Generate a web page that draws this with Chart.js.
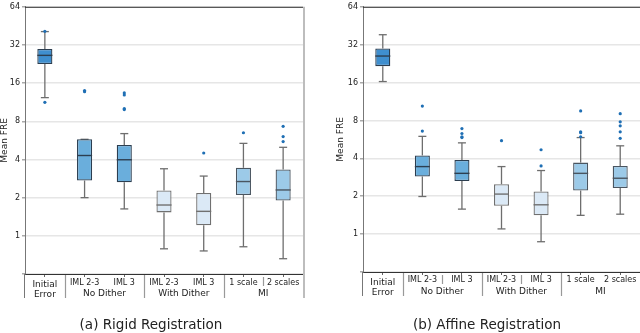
<!DOCTYPE html>
<html>
    <head>
        <title>Mean FRE box plots</title>
        <meta name="viewport" content="width=device-width, initial-scale=1.0">
        <script src="https://cdn.jsdelivr.net/npm/chart.js@4.4.1/dist/chart.umd.min.js"></script>
        <style>
            body { margin: 0; background: #fff; }
            .panel { position: absolute; top: 0; width: 320px; height: 333px; }
        </style>
    </head>
    <body>
        <div class="panel" style="left:0"><canvas id="rigid" width="320" height="333"></canvas></div>
        <div class="panel" style="left:320px"><canvas id="affine" width="320" height="333"></canvas></div>
        <script>
            // categories and groups (shared by both panels)
            const categories = ['Initial Error', 'IML 2-3', 'IML 3', 'IML 2-3', 'IML 3', '1 scale', '2 scales'];
            const groupLabels = ['No Dither', 'With Dither', 'MI'];
            const groupStart = [1, 3, 5];
            const groupEnd = [2, 4, 6];
            const yTicks = [0.5, 1, 2, 4, 8, 16, 32, 64];
            const boxColors = ['#3f8fcf', '#6aaedc', '#6aaedc', '#dbe9f6', '#dbe9f6', '#9ccae8', '#9ccae8'];
            const edgeColors = ['#2c3e50', '#2c3e50', '#2c3e50', '#707070', '#707070', '#4a5560', '#4a5560'];

            // (a) rigid registration
            const rigidLow = [12.3, 2.0, 1.63, 0.79, 0.76, 0.82, 0.66];
            const rigidQ1 = [22.6, 2.73, 2.64, 1.53, 1.21, 2.1, 1.9];
            const rigidMed = [26.5, 4.3, 3.98, 1.75, 1.56, 2.68, 2.3];
            const rigidQ3 = [29.8, 5.77, 5.2, 2.28, 2.18, 3.44, 3.34];
            const rigidHigh = [40.8, 5.77, 6.4, 3.38, 2.96, 5.36, 4.99];
            const rigidOut = [[11.3, 41], [14, 13.7], [13.4, 12.9, 10.1, 9.9], [], [4.5], [6.5], [7.3, 6.06, 5.54]];

            // (b) affine registration
            const affineLow = [16.3, 1.99, 1.58, 1.1, 0.87, 1.41, 1.44];
            const affineQ1 = [21.6, 2.87, 2.64, 1.68, 1.41, 2.22, 2.32];
            const affineMed = [26, 3.44, 3.04, 2.08, 1.71, 3.04, 2.78];
            const affineQ3 = [29.9, 4.22, 3.88, 2.49, 2.18, 3.70, 3.48];
            const affineHigh = [38.4, 5.98, 5.31, 3.44, 3.2, 5.85, 5.03];
            const affineOut = [[], [10.4, 6.59], [6.9, 6.3, 5.94, 5.85], [5.53], [4.68, 3.48], [9.53, 6.5, 6.4, 5.94], [9.05, 7.8, 7.25, 6.5, 5.77]];

            const FONT = "'DejaVu Sans', sans-serif";

            function line(ctx, x1, y1, x2, y2) {
                ctx.beginPath();
                ctx.moveTo(x1, y1);
                ctx.lineTo(x2, y2);
                ctx.stroke();
            }

            // whiskers, medians, fliers, the two-row x labels and the caption
            const boxPlugin = {
                id: 'boxExtras',
                beforeDatasetsDraw(chart) {
                    const o = chart.options.plugins.boxExtras;
                    const xs = chart.scales.x, ys = chart.scales.y, ctx = chart.ctx;
                    ctx.save();
                    ctx.strokeStyle = '#6e6e6e';
                    ctx.lineWidth = 1.3;
                    for (let i = 0; i < categories.length; i++) {
                        const x = xs.getPixelForValue(i);
                        line(ctx, x, ys.getPixelForValue(o.low[i]), x, ys.getPixelForValue(o.q1[i]));
                        line(ctx, x, ys.getPixelForValue(o.q3[i]), x, ys.getPixelForValue(o.high[i]));
                        line(ctx, x - 4, ys.getPixelForValue(o.low[i]), x + 4, ys.getPixelForValue(o.low[i]));
                        line(ctx, x - 4, ys.getPixelForValue(o.high[i]), x + 4, ys.getPixelForValue(o.high[i]));
                    }
                    ctx.restore();
                },
                afterDatasetsDraw(chart) {
                    const o = chart.options.plugins.boxExtras;
                    const xs = chart.scales.x, ys = chart.scales.y, ctx = chart.ctx;
                    const bars = chart.getDatasetMeta(0).data;
                    ctx.save();
                    for (let i = 0; i < categories.length; i++) {
                        const x = xs.getPixelForValue(i);
                        const w = bars[i].width;
                        ctx.strokeStyle = edgeColors[i];
                        ctx.lineWidth = 1.4;
                        const ym = ys.getPixelForValue(o.med[i]);
                        line(ctx, x - w / 2, ym, x + w / 2, ym);
                        ctx.fillStyle = '#1f6fb4';
                        o.out[i].forEach(v => {
                            ctx.beginPath();
                            ctx.arc(x, ys.getPixelForValue(v), 1.6, 0, Math.PI * 2);
                            ctx.fill();
                        });
                    }
                    ctx.restore();
                },
                afterDraw(chart) {
                    const o = chart.options.plugins.boxExtras;
                    const xs = chart.scales.x, ctx = chart.ctx;
                    const a = chart.chartArea;
                    ctx.save();
                    // frame
                    ctx.strokeStyle = '#333';
                    ctx.lineWidth = 1;
                    line(ctx, a.left, a.top + 0.5, a.right, a.top + 0.5);
                    const clipY = a.bottom + o.clip;
                    ctx.strokeStyle = '#777';
                    line(ctx, a.left - 0.5, a.bottom, a.left - 0.5, clipY);
                    if (o.rightBorder) {
                        ctx.strokeStyle = '#bdbdbd';
                        ctx.lineWidth = 2;
                        line(ctx, a.right + 1, a.top, a.right + 1, clipY);
                    }
                    // x labels, clipped like the original figure
                    ctx.beginPath();
                    ctx.rect(0, a.bottom + 1, chart.width, o.clip - 1);
                    ctx.clip();
                    ctx.fillStyle = '#222';
                    ctx.textAlign = 'center';
                    ctx.textBaseline = 'middle';
                    const x0 = xs.getPixelForValue(0);
                    ctx.font = '9px ' + FONT;
                    ctx.fillText('Initial', x0, a.bottom + 11);
                    ctx.fillText('Error', x0, a.bottom + 21);
                    ctx.font = '8px ' + FONT;
                    for (let i = 1; i < categories.length; i++) {
                        ctx.fillText(categories[i], xs.getPixelForValue(i), a.bottom + o.row1);
                    }
                    ctx.font = '9px ' + FONT;
                    ctx.strokeStyle = '#999';
                    ctx.lineWidth = 1.2;
                    for (let g = 0; g < groupLabels.length; g++) {
                        const xc = xs.getPixelForValue((groupStart[g] + groupEnd[g]) / 2);
                        ctx.fillText(groupLabels[g], xc, a.bottom + o.row2);
                        const xb = Math.round(xs.getPixelForValue(groupStart[g] - 0.5)) + 0.5;
                        line(ctx, xb, a.bottom, xb, clipY);
                    }
                    o.splits.forEach(s => {
                        const xb = Math.round(xs.getPixelForValue(s)) + 0.5;
                        line(ctx, xb, a.bottom + 3, xb, a.bottom + 12);
                    });
                    ctx.restore();
                    // caption
                    ctx.save();
                    ctx.fillStyle = '#222';
                    ctx.font = '13.5px ' + FONT;
                    ctx.textAlign = 'center';
                    ctx.textBaseline = 'middle';
                    ctx.fillText(o.caption, o.captionX, 325);
                    ctx.restore();
                }
            };

            function makeChart(id, p) {
                return new Chart(document.getElementById(id), {
                    type: 'bar',
                    data: {
                        labels: categories,
                        datasets: [{
                            data: p.q1.map((v, i) => [v, p.q3[i]]),
                            backgroundColor: boxColors,
                            borderColor: edgeColors,
                            borderWidth: 1.3,
                            borderSkipped: false,
                            barPercentage: 0.38,
                            categoryPercentage: 1.0
                        }]
                    },
                    options: {
                        responsive: false,
                        animation: false,
                        devicePixelRatio: 1,
                        layout: { padding: p.padding },
                        plugins: {
                            legend: { display: false },
                            tooltip: { enabled: false },
                            boxExtras: p
                        },
                        scales: {
                            x: {
                                type: 'category',
                                offset: true,
                                ticks: { display: false },
                                grid: { drawOnChartArea: false, offset: false, tickLength: 3, tickColor: '#666' },
                                border: { color: '#333', width: 1 },
                                afterFit: s => { s.height = p.xHeight; }
                            },
                            y: {
                                type: 'logarithmic',
                                min: 0.5,
                                max: 64,
                                afterBuildTicks: s => { s.ticks = yTicks.map(v => ({ value: v })); },
                                ticks: {
                                    color: '#222',
                                    font: { family: FONT, size: 8 },
                                    padding: 2,
                                    callback: v => (v >= 1 ? String(v) : '')
                                },
                                grid: { color: '#e6e6e6', lineWidth: 1.5, tickLength: 3, tickColor: '#aaa' },
                                border: { color: '#777', width: 1 },
                                title: {
                                    display: true,
                                    text: 'Mean FRE',
                                    color: '#222',
                                    font: { family: FONT, size: 9, lineHeight: 1 },
                                    padding: 0
                                },
                                afterFit: s => { s.width = p.yWidth; }
                            }
                        }
                    },
                    plugins: [boxPlugin]
                });
            }

            makeChart('rigid', {
                low: rigidLow, q1: rigidQ1, med: rigidMed, q3: rigidQ3, high: rigidHigh, out: rigidOut,
                padding: { left: 0, right: 17, top: 4, bottom: 0 },
                yWidth: 25, xHeight: 59, clip: 24, row1: 8.5, row2: 19.5,
                rightBorder: true, splits: [5.5],
                caption: '(a) Rigid Registration', captionX: 151
            });
            makeChart('affine', {
                low: affineLow, q1: affineQ1, med: affineMed, q3: affineQ3, high: affineHigh, out: affineOut,
                padding: { left: 16, right: 0, top: 3, bottom: 0 },
                yWidth: 27, xHeight: 61, clip: 24, row1: 8, row2: 19.5,
                rightBorder: false, splits: [1.5, 3.5],
                caption: '(b) Affine Registration', captionX: 167
            });
        </script>
    </body>
</html>
